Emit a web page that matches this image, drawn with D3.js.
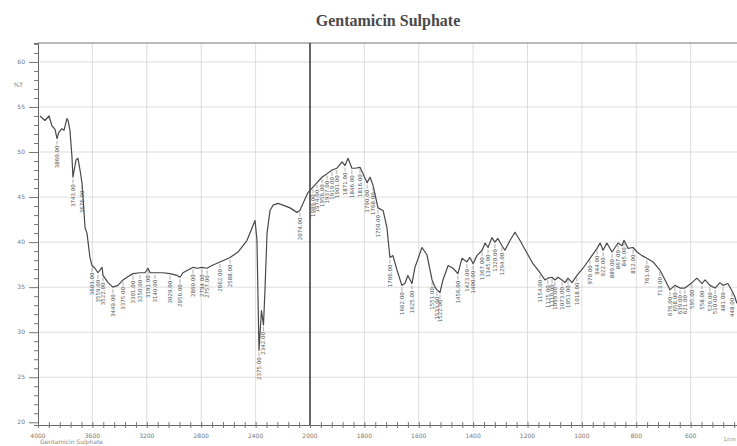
<!DOCTYPE html>
<html>
<head>
<meta charset="utf-8">
<script src="https://cdn.jsdelivr.net/npm/d3@7"></script>
<style>
  body { margin: 0; background: #fff; }
  svg { display: block; }
</style>
</head>
<body>
<script>
"use strict";

// wavenumber (1/cm) and %T
const wavenumbers = [3985,3949,3919,3897,3875,3860,3846,3824,3809,3787,
  3779,3765,3750,3743,3721,3706,3691,3676,3669,3654,
  3640,3618,3603,3581,3559,3529,3522,3485,3449,3412,
  3375,3346,3301,3250,3213,3191,3176,3140,3081,3029,
  2978,2956,2934,2897,2860,2831,2794,2757,2721,2662,
  2588,2529,2463,2404,2390,2375,2357,2342,2331,2316,
  2294,2272,2235,2199,2147,2096,2074,2051,2015,1989,
  1974,1956,1937,1919,1901,1882,1871,1860,1846,1834,
  1816,1805,1790,1779,1768,1750,1731,1717,1706,1695,
  1680,1662,1651,1640,1625,1614,1588,1570,1551,1540,
  1533,1522,1511,1492,1474,1456,1441,1423,1412,1400,
  1386,1367,1356,1345,1331,1320,1309,1294,1283,1264,
  1246,1228,1202,1180,1154,1136,1125,1110,1099,1088,
  1073,1062,1051,1036,1018,996,970,944,933,922,
  908,889,867,852,845,830,812,797,779,761,
  738,713,694,676,658,639,621,595,577,558,
  547,529,510,492,481,463,448,437,430];

const transmittance = [54.0,53.5,54.0,52.9,52.5,51.5,52.2,52.6,52.4,53.7,
  53.5,52.4,49.4,47.2,49.1,49.3,48.0,46.5,45.0,41.6,
  41.0,38.3,37.4,37.1,36.6,37.2,36.3,35.5,35.0,35.2,
  35.8,36.1,36.5,36.6,36.6,37.1,36.6,36.6,36.6,36.5,
  36.3,36.1,36.6,36.9,37.2,37.1,37.2,37.1,37.4,37.8,
  38.3,38.9,40.2,42.4,40.2,28.0,32.4,30.8,34.7,41.0,
  43.5,44.1,44.3,44.1,43.8,43.3,43.5,44.3,45.5,46.1,
  46.6,47.2,47.6,48.0,48.2,48.9,48.5,49.3,48.2,48.2,
  48.3,47.6,46.6,47.2,46.3,43.8,43.5,41.6,38.3,38.5,
  36.9,35.2,35.4,36.3,35.4,37.2,39.4,38.6,35.8,35.0,
  34.7,34.4,35.8,37.4,37.1,36.5,38.2,37.8,38.3,37.6,
  38.5,39.1,39.9,39.4,40.5,40.0,40.4,39.6,39.1,40.2,
  41.1,40.2,38.8,37.6,36.6,35.8,36.0,36.1,35.8,36.1,
  35.8,35.5,36.0,35.5,36.3,37.1,38.2,39.3,39.9,39.1,
  39.9,38.9,39.9,39.6,40.2,39.3,39.4,38.9,38.5,38.2,
  37.8,36.9,35.8,34.7,35.2,34.9,34.9,35.5,36.0,35.4,
  35.8,35.2,34.9,35.5,35.2,35.4,34.6,33.9,33.2];

// picked peaks (labelled under the trace)
const peakWavenumbers = [3860,3743,3676,3603,3559,3522,3449,3375,3301,3250,
  3191,3140,3029,2956,2860,2794,2757,2662,2588,2375,2342,2074,
  1989,1974,1956,1937,1919,1901,1871,1846,1816,1790,1768,1750,
  1706,1662,1625,1551,1533,1522,1456,1423,1400,1367,1345,1320,1294,
  1154,1125,1110,1099,1073,1051,1018,970,944,922,889,867,845,812,761,
  713,676,658,639,621,595,558,529,510,481,448];

const xTickValues = [4000,3600,3200,2800,2400,2000,1800,1600,1400,1200,1000,800,600];
const yTickValues = [20,25,30,35,40,45,50,55,60];
const chartTitle = "Gentamicin Sulphate";
const sampleName = "Gentamicin Sulphate";

const width = 737;
const height = 446;

// Shimadzu style axis: 2x expansion below 2000 1/cm
const x = d3.scaleLinear()
  .domain([4000, 2000, 400])
  .range([38, 310, 745]);

const y = d3.scaleLinear()
  .domain([19.7, 62.1])
  .range([425, 43]);

const svg = d3.select("body")
  .append("svg")
  .attr("width", width)
  .attr("height", height)
  .attr("viewBox", [0, 0, width, height])
  .style("font-family", "'DejaVu Sans', sans-serif");

svg.append("text")
  .attr("x", 388)
  .attr("y", 26)
  .attr("text-anchor", "middle")
  .attr("font-family", "'Liberation Serif', serif")
  .attr("font-weight", "bold")
  .attr("font-size", 16)
  .attr("fill", "#4a4a4a")
  .text(chartTitle);

const plotTop = y.range()[1];
const plotBottom = y.range()[0];
const plotLeft = x.range()[0];

// grid
const grid = svg.append("g").attr("stroke", "#d4d4d4").attr("stroke-width", 0.8);
grid.selectAll("line.gx")
  .data(xTickValues.filter((d) => d !== 4000 && d !== 2000))
  .join("line")
  .attr("class", "gx")
  .attr("x1", (d) => x(d)).attr("x2", (d) => x(d))
  .attr("y1", plotTop).attr("y2", plotBottom);
grid.selectAll("line.gy")
  .data(yTickValues.filter((d) => d !== 20))
  .join("line")
  .attr("class", "gy")
  .attr("x1", plotLeft).attr("x2", width)
  .attr("y1", (d) => y(d)).attr("y2", (d) => y(d));

// frame top + divider at 2000
svg.append("line")
  .attr("x1", plotLeft).attr("x2", width)
  .attr("y1", plotTop).attr("y2", plotTop)
  .attr("stroke", "#777").attr("stroke-width", 1);
svg.append("line")
  .attr("x1", x(2000)).attr("x2", x(2000))
  .attr("y1", plotTop).attr("y2", plotBottom)
  .attr("stroke", "#333").attr("stroke-width", 1.5);

// y axis
const yMinor = d3.range(20, 63, 1);
const yAxisG = svg.append("g")
  .attr("transform", `translate(${plotLeft},0)`)
  .call(d3.axisLeft(y).tickValues(yMinor).tickSize(4).tickFormat(""));
yAxisG.select(".domain").attr("stroke", "#666");
yAxisG.selectAll(".tick line").attr("stroke", "#777");
yAxisG.selectAll(".tick")
  .filter((d) => d % 5 === 0)
  .select("line").attr("x2", -9);
svg.append("g")
  .selectAll("text")
  .data(yTickValues)
  .join("text")
  .attr("x", 25)
  .attr("y", (d) => y(d) + 2)
  .attr("text-anchor", "end")
  .attr("font-size", 6)
  .attr("fill", "#777")
  .text((d) => d);
svg.append("text")
  .attr("x", 23).attr("y", y(57.4) + 2)
  .attr("text-anchor", "end")
  .attr("font-size", 6)
  .attr("fill", "#777")
  .text("%T");

// x axis
const xMinor = d3.range(4000, 2000, -80).concat(d3.range(2000, 398, -40));
const xAxisG = svg.append("g")
  .attr("transform", `translate(0,${plotBottom})`)
  .call(d3.axisBottom(x).tickValues(xMinor).tickSize(3).tickFormat(""));
xAxisG.select(".domain").attr("stroke", "#666");
xAxisG.selectAll(".tick line").attr("stroke", "#777").attr("y1", -3);
svg.append("g")
  .selectAll("text")
  .data(xTickValues)
  .join("text")
  .attr("x", (d) => x(d))
  .attr("y", plotBottom + 13)
  .attr("text-anchor", "middle")
  .attr("font-size", 6)
  .attr("fill", "#777")
  .text((d) => d);
svg.append("text")
  .attr("x", 736).attr("y", plotBottom + 16)
  .attr("text-anchor", "end")
  .attr("font-size", 5)
  .attr("fill", "#888")
  .text("1/cm");
svg.append("text")
  .attr("x", plotLeft + 2).attr("y", plotBottom + 19)
  .attr("font-size", 6)
  .attr("fill", "#888")
  .text(sampleName);

// spectrum
const points = wavenumbers.map((w, i) => ({ w, t: transmittance[i] }));
const line = d3.line()
  .x((d) => x(d.w))
  .y((d) => y(d.t));

svg.append("path")
  .datum(points)
  .attr("fill", "none")
  .attr("stroke", "#484848")
  .attr("stroke-width", 1.2)
  .attr("stroke-linejoin", "round")
  .attr("d", line);

// peak labels
const tByW = new Map(points.map((d) => [d.w, d.t]));
const fmt = d3.format(".2f");
const peaks = svg.append("g").attr("fill", "#555").attr("stroke", "#777");
const peak = peaks.selectAll("g")
  .data(peakWavenumbers)
  .join("g")
  .attr("transform", (d) => `translate(${x(d)},${y(tByW.get(d))})`);
peak.append("line")
  .attr("y1", 2).attr("y2", 6)
  .attr("stroke-width", 0.6);
peak.append("text")
  .attr("transform", "translate(1.9,7) rotate(-90)")
  .attr("text-anchor", "end")
  .attr("stroke", "none")
  .attr("font-size", 5.5)
  .text((d) => fmt(d));
</script>
</body>
</html>
